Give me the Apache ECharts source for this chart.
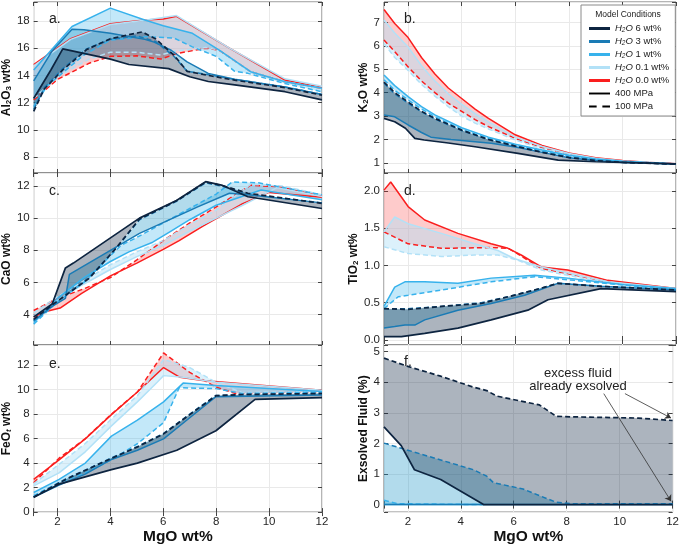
<!DOCTYPE html>
<html>
<head>
<meta charset="utf-8">
<script src="https://cdn.jsdelivr.net/npm/echarts@6/dist/echarts.min.js"></script>
<style>
  html, body { margin: 0; padding: 0; background: #fff; }
  #main { width: 682px; height: 546px; }
</style>
</head>
<body>
<div id="main"></div>
<script>
  // MgO (x) range shared by every panel
  var mgoRange = [1.1, 12];
  var mgoTicks = [2, 4, 6, 8, 10, 12];

  // a. Al2O3 wt%   (s = 400 MPa, d = 100 MPa)
  var alRange = [6.82, 19.4];
  var alTicks = [8, 10, 12, 14, 16, 18];
  var al6s = [[1.1,12.3],[1.75,14.4],[2.2,15.95],[4.0,15.2],[4.7,14.8],[6.2,14.5],[7.0,13.9],[7.7,13.55],[8.7,13.3],[10.6,12.8],[12,12.2]];
  var al6d = [[1.1,11.35],[1.5,13.0],[2.2,14.4],[3.1,15.9],[4.0,16.7],[5.2,17.2],[5.7,16.7],[6.4,15.5],[6.9,14.3],[7.7,14.0],[8.7,13.65],[10.6,13.1],[12,12.55]];
  var al3s = [[1.1,13.6],[1.8,15.8],[2.55,17.4],[3.0,17.35],[4.0,17.1],[5.3,16.65],[5.65,16.45],[6.3,15.85],[6.9,15.0],[7.7,14.15],[8.7,13.72],[10.6,13.15],[12,12.6]];
  var al3d = [[1.1,11.5],[1.5,13.1],[2.2,14.5],[3.1,15.95],[4.0,16.65],[5.0,16.9],[5.7,16.5],[6.4,15.4],[6.9,14.3],[7.7,14.05],[8.7,13.7],[10.6,13.15],[12,12.6]];
  var al1s = [[1.1,14.4],[2.55,17.6],[4.0,18.95],[5.3,18.07],[6.0,17.65],[7.1,17.1],[8.1,15.87],[9.3,14.27],[10.6,13.54],[12,13.05]];
  var al1d = [[1.1,11.7],[1.6,13.2],[2.2,14.2],[3.0,15.5],[4.0,16.6],[5.3,16.85],[6.4,16.75],[7.1,16.1],[8.0,15.4],[8.7,14.3],[9.2,14.15],[10.6,13.4],[12,12.8]];
  var al01s = [[1.1,14.7],[2.5,16.65],[4.0,17.75],[5.3,18.05],[6.5,18.4],[8.5,16.0],[10.6,13.75],[12,13.2]];
  var al01d = [[1.1,12.3],[2.0,13.9],[3.2,15.2],[4.0,15.7],[5.0,15.7],[5.9,15.5],[6.5,15.8],[7.6,16.05],[8.1,15.87],[9.3,14.27],[10.6,13.54],[12,13.05]];
  var al0s = [[1.1,14.8],[2.5,16.7],[4.0,17.8],[5.3,18.07],[6.0,18.15],[6.5,18.35],[8.5,16.0],[10.6,13.66],[12,13.12]];
  var al0d = [[1.1,12.2],[2.0,13.7],[3.2,14.9],[4.0,15.4],[5.0,15.44],[5.9,15.2],[6.5,15.6],[7.6,16.0],[8.1,15.87],[9.3,14.27],[10.6,13.54],[12,13.05]];

  // c. CaO wt%
  var caRange = [2.1, 12.81];
  var caTicks = [4, 6, 8, 10, 12];
  var ca6s = [[1.1,3.85],[1.8,4.65],[2.3,6.9],[2.6,7.2],[5.1,10.0],[6.5,11.1],[7.6,12.27],[8.2,12.06],[9.2,11.33],[12,10.6]];
  var ca6d = [[1.1,3.7],[1.8,4.6],[3.2,6.25],[4.2,8.1],[5.1,9.95],[6.5,11.08],[7.6,12.25],[8.3,12.0],[9.2,11.55],[12,10.92]];
  var ca3s = [[1.1,3.6],[1.8,4.5],[2.3,5.0],[2.45,6.5],[5.1,9.05],[7.3,10.7],[8.5,11.55],[9.2,11.45],[12,10.95]];
  var ca3d = [[1.1,3.65],[1.8,4.55],[3.2,6.3],[4.2,8.1],[5.1,9.9],[6.5,11.05],[7.6,12.2],[8.3,11.95],[9.2,11.5],[12,10.95]];
  var ca1s = [[1.1,3.5],[2.0,5.0],[3.0,6.3],[4.0,7.3],[4.7,7.9],[5.6,8.5],[6.2,9.1],[7.0,9.9],[8.0,10.8],[9.7,11.75],[12,11.15]];
  var ca1d = [[1.1,3.4],[2.0,4.8],[3.0,6.0],[3.9,7.5],[4.4,8.3],[5.0,8.8],[6.0,9.7],[7.0,10.6],[8.0,11.5],[8.6,12.25],[9.6,12.2],[12,11.45]];
  var ca01s = [[1.1,3.9],[2.0,4.9],[3.0,5.9],[4.0,6.8],[5.0,7.6],[6.0,8.3],[7.0,9.2],[8.0,10.0],[9.0,10.8],[10.3,11.9],[12,11.35]];
  var ca01d = [[1.1,4.1],[2.0,5.1],[3.0,6.1],[4.0,7.1],[5.0,7.9],[6.0,8.6],[7.0,9.6],[8.0,10.5],[9.3,12.1],[10.5,12.0],[12,11.45]];
  var ca0s = [[1.1,3.85],[1.6,4.2],[2.1,4.4],[2.9,5.3],[4.0,6.4],[5.0,7.2],[6.0,8.05],[6.6,8.6],[7.5,9.5],[9.0,10.9],[10.0,11.6],[12,11.3]];
  var ca0d = [[1.1,4.25],[2.0,5.0],[3.0,5.6],[4.0,6.3],[5.0,7.4],[6.0,8.6],[7.0,9.7],[8.0,10.7],[9.3,12.05],[10.4,11.95],[12,11.4]];

  // e. FeOt wt%
  var feRange = [0, 13.64];
  var feTicks = [0, 2, 4, 6, 8, 10, 12];
  var fe6s = [[1.1,1.22],[2.06,2.28],[4.04,3.47],[5.02,4.0],[6.51,5.05],[7.99,6.64],[9.47,9.2],[12,9.34]];
  var fe6d = [[1.1,1.22],[2.31,2.67],[4.04,4.39],[5.02,5.32],[6.01,6.38],[7.0,7.96],[7.99,9.5],[8.98,9.6],[12,9.68]];
  var fe3s = [[1.1,1.22],[2.06,2.2],[3.05,3.1],[4.04,4.3],[5.02,5.05],[6.01,5.98],[7.0,7.7],[7.99,9.42],[12,9.55]];
  var fe3d = [[1.1,1.25],[2.31,2.7],[4.04,4.42],[5.02,5.35],[6.01,6.42],[7.0,8.0],[7.99,9.52],[12,9.7]];
  var fe1s = [[1.1,1.6],[2.06,2.67],[3.05,4.0],[4.04,6.2],[5.02,7.5],[6.01,9.0],[6.75,10.53],[7.99,10.34],[12,9.85]];
  var fe1d = [[1.1,1.35],[2.06,2.4],[3.05,3.2],[4.04,4.26],[5.02,5.58],[6.01,7.3],[6.6,10.15],[7.99,10.08],[8.98,9.68],[12,9.8]];
  var fe01s = [[1.1,2.14],[2.06,3.2],[3.05,4.92],[4.04,7.04],[5.02,9.0],[5.77,10.6],[6.01,11.14],[6.75,11.0],[7.99,10.6],[12,9.95]];
  var fe01d = [[1.1,2.3],[2.06,3.9],[3.05,5.6],[4.04,7.6],[5.02,9.5],[6.01,12.46],[7.0,11.8],[7.99,10.6],[8.98,9.75],[12,9.85]];
  var fe0s = [[1.1,2.67],[2.06,4.26],[3.05,5.98],[4.04,7.96],[5.02,9.8],[6.01,11.8],[6.63,11.0],[7.49,10.74],[12,9.95]];
  var fe0d = [[1.1,2.4],[2.06,4.4],[3.05,6.0],[4.04,8.0],[5.02,9.8],[6.01,12.99],[7.0,11.4],[7.99,10.2],[8.73,9.68],[12,9.81]];

  // b. K2O wt%
  var kRange = [0.57, 7.87];
  var kTicks = [1, 2, 3, 4, 5, 6, 7];
  var k6s = [[1.1,2.9],[1.5,2.76],[1.9,2.48],[2.25,2.05],[2.6,1.98],[3.5,1.85],[4.5,1.69],[6.1,1.41],[7.6,1.12],[9,1.05],[10,1.02],[12,0.96]];
  var k6d = [[1.1,4.45],[1.5,4.0],[2.0,3.6],[2.5,3.2],[3.0,2.9],[4.0,2.4],[5.0,2.0],[6.0,1.72],[7.0,1.45],[8.0,1.23],[9,1.1],[10,1.02],[12,0.95]];
  var k3s = [[1.1,3.05],[1.5,2.97],[2.0,2.62],[2.5,2.3],[2.85,2.1],[3.6,2.0],[5.1,1.84],[6.0,1.68],[7.0,1.45],[8.0,1.22],[9,1.1],[10,1.02],[12,0.95]];
  var k3d = [[1.1,4.4],[1.5,3.95],[2.0,3.55],[2.5,3.18],[3.0,2.88],[4.0,2.38],[5.0,2.0],[6.0,1.72],[7.0,1.47],[8.0,1.25],[9,1.12],[10,1.03],[12,0.95]];
  var k1s = [[1.1,4.75],[1.5,4.3],[2.0,3.83],[2.5,3.4],[3.0,3.05],[4.0,2.5],[5.0,2.1],[6.0,1.8],[7.0,1.55],[8.0,1.33],[9,1.17],[10,1.07],[12,0.95]];
  var k1d = [[1.1,4.55],[1.5,4.1],[2.0,3.69],[2.5,3.3],[3.0,2.97],[4.0,2.42],[5.0,2.05],[6.0,1.75],[7.0,1.5],[8.0,1.3],[9,1.15],[10,1.05],[12,0.95]];
  var k01s = [[1.1,7.1],[1.5,6.55],[2.0,5.95],[2.5,5.15],[3.0,4.5],[3.5,3.95],[4.0,3.5],[4.5,3.1],[5.0,2.75],[6.0,2.1],[7.0,1.7],[8.0,1.4],[9,1.2],[10,1.08],[12,0.96]];
  var k01d = [[1.1,6.1],[1.5,5.5],[2.0,4.95],[2.5,4.35],[3.0,3.85],[3.5,3.4],[4.0,3.0],[4.5,2.7],[5.0,2.45],[6.0,1.98],[7.0,1.6],[8.0,1.35],[9,1.18],[10,1.07],[12,0.95]];
  var k0s = [[1.1,7.55],[1.5,6.95],[2.0,6.35],[2.5,5.5],[3.0,4.8],[3.5,4.2],[4.0,3.75],[4.5,3.3],[5.0,2.9],[6.0,2.2],[7.0,1.75],[8.0,1.42],[9.0,1.22],[10,1.1],[11,1.02],[12,0.97]];
  var k0d = [[1.1,6.25],[1.5,5.75],[2.0,5.1],[2.5,4.5],[3.0,4.0],[3.5,3.55],[4.0,3.2],[4.5,2.85],[5.0,2.55],[6.0,2.05],[7.0,1.65],[8.0,1.38],[9.0,1.2],[10,1.08],[12,0.96]];

  // d. TiO2 wt%
  var tiRange = [-0.067, 2.24];
  var tiTicks = [0, 0.5, 1, 1.5, 2];
  var ti6s = [[1.1,0.045],[1.75,0.045],[2.62,0.09],[3.86,0.16],[5.1,0.27],[6.47,0.4],[7.22,0.54],[9.2,0.69],[12,0.65]];
  var ti6d = [[1.1,0.42],[2.0,0.41],[3.24,0.45],[4.73,0.49],[5.73,0.58],[6.72,0.67],[7.59,0.76],[9.2,0.72],[12,0.67]];
  var ti3s = [[1.1,0.16],[1.5,0.18],[1.88,0.2],[2.25,0.2],[2.62,0.27],[3.86,0.4],[5.1,0.49],[6.35,0.6],[7.59,0.76],[9.2,0.72],[12,0.67]];
  var ti3d = [[1.1,0.42],[2.0,0.42],[3.24,0.45],[4.73,0.5],[5.73,0.58],[6.72,0.67],[7.59,0.76],[9.2,0.72],[12,0.67]];
  var ti1s = [[1.1,0.45],[1.5,0.71],[1.88,0.78],[2.62,0.78],[3.86,0.76],[5.1,0.83],[6.72,0.87],[7.96,0.83],[10.07,0.74],[12,0.69]];
  var ti1d = [[1.1,0.42],[1.63,0.58],[2.0,0.6],[3.24,0.67],[5.1,0.78],[6.72,0.85],[8.21,0.8],[12,0.67]];
  var ti01s = [[1.1,1.45],[1.5,1.65],[2.0,1.56],[3.24,1.43],[4.48,1.29],[5.35,1.2],[5.98,1.09],[6.97,0.98],[9.45,0.78],[12,0.69]];
  var ti01d = [[1.1,1.25],[2.0,1.16],[3.24,1.12],[4.48,1.14],[5.35,1.14],[6.1,1.07],[6.97,0.94],[9.45,0.76],[12,0.68]];
  var ti0s = [[1.1,2.01],[1.35,2.12],[2.0,1.79],[2.62,1.61],[3.86,1.43],[5.1,1.29],[5.73,1.23],[6.22,1.14],[6.97,0.98],[7.96,0.94],[9.45,0.8],[12,0.69]];
  var ti0d = [[1.1,1.45],[2.0,1.29],[3.24,1.23],[5.1,1.24],[5.73,1.23],[5.98,1.18],[6.47,1.07],[6.97,0.96],[7.96,0.89],[9.45,0.78],[12,0.69]];

  // f. Exsolved fluid (%)
  var flRange = [-0.245, 5.22];
  var flTicks = [0, 1, 2, 3, 4, 5];
  var fl6s = [[1.1,2.54],[1.75,1.93],[2.25,1.14],[3.24,0.82],[4.86,0.0],[12,0.0]];
  var fl6d = [[1.1,4.79],[2.0,4.52],[3.24,4.2],[4.48,3.84],[4.98,3.73],[5.35,3.55],[6.97,3.26],[7.6,2.89],[8.2,2.87],[10.7,2.83],[12,2.75]];
  var fl3s = [[1.1,0],[12,0]];
  var fl3d = [[1.1,2.01],[2.0,1.78],[3.24,1.46],[4.48,1.14],[4.98,0.93],[5.23,0.72],[6.35,0.51],[7.59,0.08],[8.21,0.03],[12,0.03]];
  var fl1s = [[1.1,0],[4.86,0]];
  var fl1d = [[1.1,0.14],[1.63,0.03],[4.86,0]];
  var arrowFrom = [[10.2, 3.63], [9.4, 3.63]];
  var arrowTo = [[11.94, 2.83], [11.94, 0.11]];

  var COLOR = { w6: '#0d2440', w3: '#1a7bb5', w1: '#37b2ec', w01: '#b2e1f7', w0: '#fa1e1e' };
  var FILL = {
    w6: 'rgba(13,36,64,0.34)',
    w3: 'rgba(30,150,200,0.34)',
    w1: 'rgba(55,178,236,0.3)',
    w01: 'rgba(178,225,247,0.45)',
    w0: 'rgba(250,30,30,0.23)'
  };
  var LEGEND = { w6: 'H2O 6 wt%', w3: 'H2O 3 wt%', w1: 'H2O 1 wt%', w01: 'H2O 0.1 wt%', w0: 'H2O 0.0 wt%' };

  // grid index: a=0 c=1 e=2 b=3 d=4 f=5
  var panels = [
    { left: 28, top: 2, height: 171, range: alRange, ticks: alTicks, name: '{b|Al}{s|2}{b|O}{s|3}{b| wt%}', gap: 17, bottom: false,
      sets: [['w0', al0s, al0d], ['w01', al01s, al01d], ['w1', al1s, al1d], ['w3', al3s, al3d], ['w6', al6s, al6d]] },
    { left: 28, top: 173, height: 172, range: caRange, ticks: caTicks, name: 'CaO wt%', gap: 19, bottom: false,
      sets: [['w0', ca0s, ca0d], ['w01', ca01s, ca01d], ['w1', ca1s, ca1d], ['w3', ca3s, ca3d], ['w6', ca6s, ca6d]] },
    { left: 28, top: 345, height: 172, range: feRange, ticks: feTicks, name: '{b|FeO}{si|t}{b| wt%}', gap: 18, bottom: true,
      sets: [['w0', fe0s, fe0d], ['w01', fe01s, fe01d], ['w1', fe1s, fe1d], ['w3', fe3s, fe3d], ['w6', fe6s, fe6d]] },
    { left: 384, top: 2, height: 171, range: kRange, ticks: kTicks, name: '{b|K}{s|2}{b|O wt%}', gap: 11, bottom: false, legend: true,
      sets: [['w0', k0s, k0d], ['w01', k01s, k01d], ['w1', k1s, k1d], ['w3', k3s, k3d], ['w6', k6s, k6d]] },
    { left: 384, top: 173, height: 172, range: tiRange, ticks: tiTicks, name: '{b|TiO}{s|2}{b| wt%}', gap: 22, bottom: false, dec: 1,
      sets: [['w0', ti0s, ti0d], ['w01', ti01s, ti01d], ['w1', ti1s, ti1d], ['w3', ti3s, ti3d], ['w6', ti6s, ti6d]] },
    { left: 384, top: 345, height: 172, range: flRange, ticks: flTicks, name: 'Exsolved Fluid (%)', gap: 12, bottom: true,
      sets: [['w1', fl1s, fl1d], ['w3', fl3s, fl3d], ['w6', fl6s, fl6d]] }
  ];

  var nameRich = {
    b: { fontSize: 12, fontWeight: 'bold', color: '#111', fontFamily: 'Liberation Sans' },
    s: { fontSize: 8, fontWeight: 'bold', color: '#111', fontFamily: 'Liberation Sans', verticalAlign: 'bottom', lineHeight: 10 },
    si: { fontSize: 8, fontWeight: 'bold', fontStyle: 'italic', color: '#111', fontFamily: 'Liberation Sans', verticalAlign: 'bottom', lineHeight: 10 }
  };

  function tickFormatter(list, dec) {
    return function (v) {
      for (var i = 0; i < list.length; i++) {
        if (Math.abs(list[i] - v) < 1e-6) return dec ? list[i].toFixed(dec) : String(list[i]);
      }
      return '';
    };
  }

  var grids = [], xAxes = [], yAxes = [], series = [];
  panels.forEach(function (p, gi) {
    var w = p.left < 100 ? 294 : 292;
    grids.push({ left: p.left, top: p.top, width: w, height: p.height, show: true,
      borderColor: '#6a6a6a', borderWidth: 1, backgroundColor: 'transparent' });
    var tick = { show: true, inside: true, length: 4, lineStyle: { color: '#444', width: 1 } };
    xAxes.push({
      type: 'value', gridIndex: gi, position: 'bottom', min: mgoRange[0], max: mgoRange[1], splitNumber: 5,
      axisLine: { show: false }, axisTick: tick,
      splitLine: { show: true, lineStyle: { color: '#e9e9e9', width: 1 } },
      axisLabel: { show: p.bottom, margin: 4, fontSize: 11.5, color: '#262626', fontFamily: 'Liberation Sans',
        formatter: tickFormatter(mgoTicks) },
      name: p.bottom ? 'MgO wt%' : '', nameLocation: 'middle', nameGap: 13,
      nameTextStyle: { fontSize: 15.5, fontWeight: 'bold', color: '#111', fontFamily: 'Liberation Sans' }
    });
    xAxes.push({
      type: 'value', gridIndex: gi, position: 'top', min: mgoRange[0], max: mgoRange[1], splitNumber: 5,
      axisLine: { show: false }, axisTick: tick, splitLine: { show: false }, axisLabel: { show: false }
    });
    var span = p.range[1] - p.range[0];
    var step = p.ticks[1] - p.ticks[0];
    var splitN = Math.round(span / step);
    yAxes.push({
      type: 'value', gridIndex: gi, position: 'left', min: p.range[0], max: p.range[1], splitNumber: splitN,
      axisLine: { show: false }, axisTick: tick,
      splitLine: { show: true, lineStyle: { color: '#e9e9e9', width: 1 } },
      axisLabel: { margin: 4, fontSize: 11.5, color: '#262626', fontFamily: 'Liberation Sans',
        formatter: tickFormatter(p.ticks, p.dec) },
      name: p.name, nameLocation: 'middle', nameGap: p.gap,
      nameTextStyle: { fontSize: 12, fontWeight: 'bold', color: '#111', fontFamily: 'Liberation Sans', rich: nameRich }
    });
    yAxes.push({
      type: 'value', gridIndex: gi, position: 'right', min: p.range[0], max: p.range[1], splitNumber: splitN,
      axisLine: { show: false }, axisTick: tick, splitLine: { show: false }, axisLabel: { show: false }
    });

    // shaded band between 400 MPa and 100 MPa runs
    p.sets.forEach(function (s) {
      var ring = s[1].concat(s[2].slice().reverse());
      var key = s[0];
      series.push({
        type: 'custom', xAxisIndex: gi * 2, yAxisIndex: gi * 2, silent: true, z: 1,
        data: [ring[0]],
        renderItem: function (params, api) {
          return {
            type: 'polygon',
            shape: { points: ring.map(function (pt) { return api.coord(pt); }) },
            style: { fill: FILL[key], stroke: null }
          };
        }
      });
    });
    // lines on top
    p.sets.forEach(function (s) {
      var key = s[0];
      var lw = key === 'w6' ? 1.7 : 1.5;
      series.push({
        type: 'line', name: p.legend ? LEGEND[key] : undefined,
        xAxisIndex: gi * 2, yAxisIndex: gi * 2, data: s[2], symbol: 'none', z: 3, silent: true,
        itemStyle: { color: COLOR[key] },
        lineStyle: { color: COLOR[key], width: lw, type: [5, 3] }
      });
      series.push({
        type: 'line', name: p.legend ? LEGEND[key] : undefined,
        xAxisIndex: gi * 2, yAxisIndex: gi * 2, data: s[1], symbol: 'none', z: 3, silent: true,
        itemStyle: { color: COLOR[key] },
        lineStyle: { color: COLOR[key], width: lw, type: 'solid' }
      });
    });
  });

  // legend-only entries for pressure
  series.push({ type: 'line', name: '400 MPa', xAxisIndex: 6, yAxisIndex: 6, data: [], symbol: 'none',
    itemStyle: { color: '#000' }, lineStyle: { color: '#000', width: 2 } });
  series.push({ type: 'line', name: '100 MPa', xAxisIndex: 6, yAxisIndex: 6, data: [], symbol: 'none',
    itemStyle: { color: '#000' }, lineStyle: { color: '#000', width: 2, type: 'dashed' } });

  // annotation arrows in panel f
  series.push({
    type: 'line', xAxisIndex: 10, yAxisIndex: 10, data: [], symbol: 'none', silent: true,
    markLine: {
      silent: true, symbol: ['none', 'arrow'], symbolSize: 6, animation: false,
      label: { show: false },
      lineStyle: { color: '#333', width: 0.8, type: 'solid' },
      data: arrowFrom.map(function (f, i) { return [{ coord: f }, { coord: arrowTo[i] }]; })
    }
  });

  var chart = echarts.init(document.getElementById('main'), null, { renderer: 'canvas' });
  chart.setOption({
    animation: false,
    backgroundColor: '#fff',
    grid: grids,
    xAxis: xAxes,
    yAxis: yAxes,
    series: series,
    legend: {
      left: 581, top: 5, orient: 'vertical', selectedMode: false,
      backgroundColor: '#fff', borderColor: '#8a8a8a', borderWidth: 1, borderRadius: 0,
      padding: [18, 6, 4, 8], itemGap: 2, itemWidth: 21, itemHeight: 3,
      data: [
        { name: 'H2O 6 wt%', icon: 'rect' },
        { name: 'H2O 3 wt%', icon: 'rect' },
        { name: 'H2O 1 wt%', icon: 'rect' },
        { name: 'H2O 0.1 wt%', icon: 'rect' },
        { name: 'H2O 0.0 wt%', icon: 'rect' },
        { name: '400 MPa', icon: 'path://M0,0h22v2h-22z' },
        { name: '100 MPa', icon: 'path://M0,0h8v2h-8zM14,0h8v2h-8z' }
      ],
      formatter: function (n) {
        if (n.indexOf('H2O') === 0) return '{it|H}{sub|2}{it|O}' + n.slice(3);
        return n;
      },
      textStyle: {
        fontSize: 9.5, color: '#222', fontFamily: 'Liberation Sans', lineHeight: 11,
        rich: {
          it: { fontSize: 9.5, fontStyle: 'italic', color: '#222', fontFamily: 'Liberation Sans', lineHeight: 11 },
          sub: { fontSize: 6.5, fontStyle: 'italic', color: '#222', fontFamily: 'Liberation Sans', verticalAlign: 'bottom', lineHeight: 8 }
        }
      }
    },
    graphic: [
      { type: 'text', left: 49, top: 12, z: 100, style: { text: 'a.', fontSize: 14, fill: '#222', fontFamily: 'Liberation Sans' } },
      { type: 'text', left: 404, top: 12, z: 100, style: { text: 'b.', fontSize: 14, fill: '#222', fontFamily: 'Liberation Sans' } },
      { type: 'text', left: 49, top: 184, z: 100, style: { text: 'c.', fontSize: 14, fill: '#222', fontFamily: 'Liberation Sans' } },
      { type: 'text', left: 404, top: 184, z: 100, style: { text: 'd.', fontSize: 14, fill: '#222', fontFamily: 'Liberation Sans' } },
      { type: 'text', left: 49, top: 357, z: 100, style: { text: 'e.', fontSize: 14, fill: '#222', fontFamily: 'Liberation Sans' } },
      { type: 'text', left: 404, top: 355, z: 100, style: { text: 'f.', fontSize: 14, fill: '#222', fontFamily: 'Liberation Sans' } },
      { type: 'text', x: 628, y: 10, z: 100, style: { text: 'Model Conditions', fontSize: 8.5, fill: '#222', align: 'center', fontFamily: 'Liberation Sans' } },
      { type: 'text', x: 578, y: 367, z: 100, style: { text: 'excess fluid\nalready exsolved', fontSize: 13, lineHeight: 13, fill: '#222', align: 'center', fontFamily: 'Liberation Sans' } }
    ]
  });
</script>
</body>
</html>
